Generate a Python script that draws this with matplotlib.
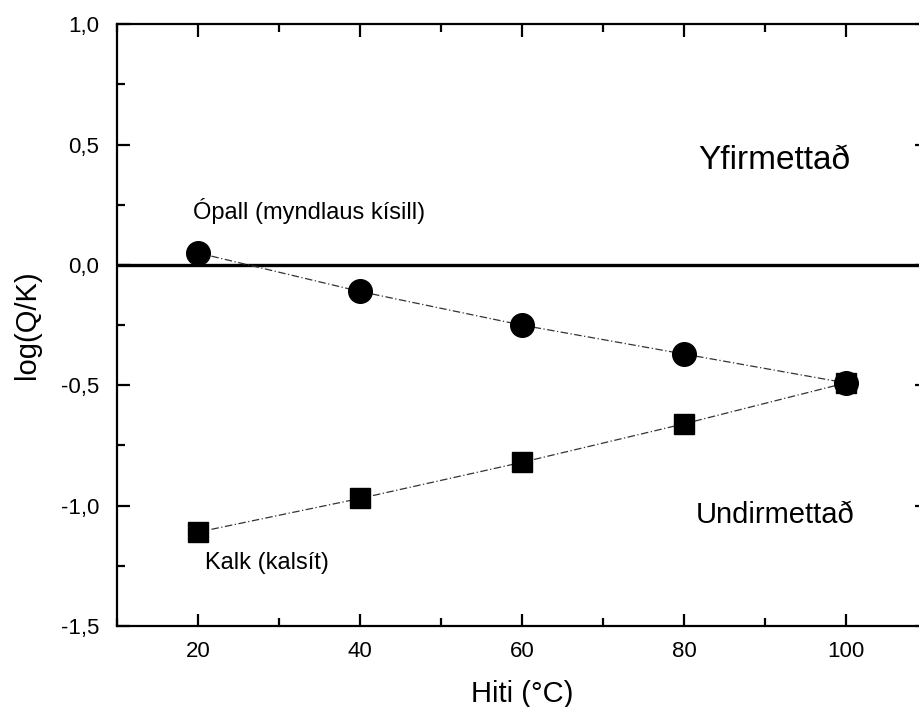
import matplotlib
matplotlib.use("Agg")
import matplotlib.pyplot as plt
from matplotlib.ticker import MultipleLocator, FuncFormatter

plt.rcParams["font.family"] = ["Liberation Sans", "DejaVu Sans"]

# temperature (°C) and saturation index log(Q/K)
hiti = [20, 40, 60, 80, 100]
opall = [0.05, -0.11, -0.25, -0.37, -0.49]
kalk = [-1.11, -0.97, -0.82, -0.66, -0.49]

fig = plt.figure(figsize=(9.19, 7.07), dpi=100)
# right spine sits just past the image edge, like in the scanned original
ax = fig.add_axes([0.1273, 0.1146, 0.8814, 0.851])

ax.axhline(0, color="black", lw=2.4, zorder=1)
ax.plot(hiti, opall, color="#333333", lw=0.9, ls=(0, (6, 2, 1, 2)), zorder=2)
ax.plot(hiti, kalk, color="#333333", lw=0.9, ls=(0, (6, 2, 1, 2)), zorder=2)
ax.plot(hiti, opall, "o", color="black", markersize=17, zorder=3)
ax.plot(hiti, kalk, "s", color="black", markersize=14, zorder=3)

ax.set_xlim(10, 110)
ax.set_ylim(-1.5, 1.0)
ax.xaxis.set_minor_locator(MultipleLocator(10))
ax.yaxis.set_major_locator(MultipleLocator(0.5))
ax.yaxis.set_minor_locator(MultipleLocator(0.25))
ax.yaxis.set_major_formatter(FuncFormatter(lambda v, p: f"{v:.1f}".replace(".", ",")))
ax.set_xticks([20, 40, 60, 80, 100])

ax.tick_params(which="both", direction="in", top=True, right=True, width=1.6,
               labelsize=16)
ax.tick_params(axis="x", pad=11)
ax.tick_params(axis="y", pad=13)
ax.tick_params(which="major", length=9)
ax.tick_params(which="minor", length=6)
for s in ax.spines.values():
    s.set_linewidth(1.6)

ax.set_xlabel("Hiti (°C)", fontsize=21, labelpad=13)
ax.set_ylabel("log(Q/K)", fontsize=21, labelpad=14)

ax.text(81.7, 0.436, "Yfirmettað", fontsize=24, va="center")
ax.text(81.5, -1.04, "Undirmettað", fontsize=21, va="center")
ax.text(19.4, 0.225, "Ópall (myndlaus kísill)", fontsize=17, va="center")
ax.text(20.9, -1.24, "Kalk (kalsít)", fontsize=17, va="center")

fig.savefig("out.png", dpi=100)
